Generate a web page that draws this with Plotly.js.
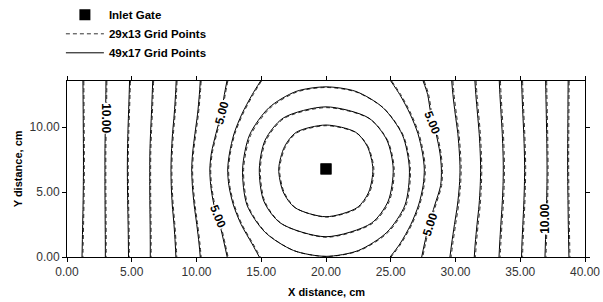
<!DOCTYPE html>
<html>
<head>
<meta charset="utf-8">
<script src="https://cdn.plot.ly/plotly-3.0.1.min.js"></script>
<style>html,body{margin:0;padding:0;background:#fff}#chart{width:603px;height:302px}</style>
</head>
<body>
<div id="chart"></div>
<script>
// ---- data ----
const gateX = [20.0];
const gateY = [6.78];

// y positions sampled along the wall-to-wall contour lines
const yOpen = [13.55, 12.5, 11, 9.5, 8, 6.78, 5.5, 4, 2.5, 1, 0];

// 49x17 grid (solid) – left side, levels 4..11
const s4L  = [14.95,14.30,13.50,12.90,12.55,12.41,12.50,12.85,13.45,14.30,14.85];
const s5L  = [12.35,12.15,11.90,11.50,11.15,11.03,11.10,11.35,11.80,12.15,12.37];
const s6L  = [10.29,10.22,10.08,9.88,9.70,9.63,9.68,9.82,10.02,10.20,10.29];
const s7L  = [8.43,8.38,8.28,8.15,8.06,8.03,8.05,8.13,8.26,8.36,8.41];
const s8L  = [6.62,6.58,6.52,6.45,6.40,6.39,6.39,6.40,6.42,6.43,6.43];
const s9L  = [4.83,4.80,4.75,4.70,4.67,4.66,4.67,4.69,4.72,4.74,4.75];
const s10L = [3.01,3.00,2.98,2.95,2.93,2.93,2.93,2.94,2.95,2.96,2.96];
const s11L = [1.23,1.24,1.25,1.26,1.27,1.27,1.26,1.24,1.21,1.18,1.16];
// right side
const s4R  = [25.00,25.70,26.50,27.10,27.45,27.59,27.50,27.15,26.55,25.70,24.95];
const s5R  = [27.50,27.85,28.10,28.50,28.80,28.91,28.85,28.40,27.95,27.60,27.39];
const s6R  = [29.71,29.80,29.98,30.18,30.30,30.35,30.30,30.15,29.92,29.70,29.57];
const s7R  = [31.50,31.57,31.70,31.83,31.91,31.94,31.91,31.82,31.66,31.52,31.45];
const s8R  = [33.38,33.43,33.52,33.61,33.67,33.69,33.67,33.60,33.50,33.41,33.36];
const s9R  = [35.10,35.14,35.20,35.27,35.32,35.34,35.32,35.27,35.20,35.13,35.10];
const s10R = [36.96,36.98,37.01,37.04,37.06,37.07,37.06,37.03,36.99,36.94,36.91];
const s11R = [38.70,38.69,38.68,38.67,38.66,38.66,38.67,38.69,38.71,38.74,38.76];

// 29x13 grid (dashed) – left side
const d4L  = [15.02,14.38,13.58,12.97,12.62,12.48,12.57,12.92,13.52,14.38,14.93];
const d5L  = [12.42,12.22,11.97,11.57,11.22,11.10,11.17,11.42,11.87,12.22,12.44];
const d6L  = [10.36,10.29,10.15,9.95,9.77,9.70,9.75,9.89,10.09,10.27,10.36];
const d7L  = [8.50,8.45,8.35,8.22,8.13,8.10,8.12,8.20,8.33,8.43,8.48];
const d8L  = [6.69,6.65,6.59,6.52,6.47,6.46,6.46,6.47,6.49,6.50,6.50];
const d9L  = [4.90,4.87,4.82,4.77,4.74,4.73,4.74,4.76,4.79,4.81,4.82];
const d10L = [3.08,3.07,3.05,3.02,3.00,3.00,3.00,3.01,3.02,3.03,3.03];
const d11L = [1.30,1.31,1.32,1.33,1.34,1.34,1.33,1.31,1.28,1.25,1.23];
// right side
const d4R  = [25.07,25.78,26.58,27.18,27.53,27.67,27.58,27.23,26.63,25.78,25.03];
const d5R  = [27.58,27.93,28.18,28.58,28.88,28.99,28.93,28.48,28.03,27.68,27.47];
const d6R  = [29.80,29.89,30.07,30.27,30.39,30.44,30.39,30.24,30.01,29.79,29.66];
const d7R  = [31.59,31.66,31.79,31.92,32.00,32.03,32.00,31.91,31.75,31.61,31.54];
const d8R  = [33.47,33.52,33.61,33.70,33.76,33.78,33.76,33.69,33.59,33.50,33.45];
const d9R  = [35.18,35.22,35.28,35.35,35.40,35.42,35.40,35.35,35.28,35.21,35.18];
const d10R = [37.04,37.06,37.09,37.12,37.14,37.15,37.14,37.11,37.07,37.02,36.99];
const d11R = [38.78,38.77,38.76,38.75,38.74,38.74,38.75,38.77,38.79,38.82,38.84];

// closed rings around the gate (levels 1..3)
const r1x = [23.62,23.20,22.30,20.00,17.70,16.80,16.35,16.70,17.60,20.00,22.40,23.30,23.62];
const r1y = [6.78,8.50,9.60,10.16,9.60,8.50,6.78,5.00,3.80,3.10,3.80,5.00,6.78];
const r2x = [25.19,24.70,23.30,20.00,16.70,15.30,14.85,15.20,16.50,20.00,23.50,24.80,25.19];
const r2y = [6.78,9.00,10.70,11.56,10.70,9.00,6.78,4.30,2.60,1.56,2.60,4.30,6.78];
const r3x = [26.44,25.90,24.40,22.30,20.00,17.70,15.60,14.10,13.56,13.90,15.30,17.50,20.00,22.50,24.70,26.10,26.44];
const r3y = [6.78,9.40,11.50,12.75,13.10,12.75,11.50,9.40,6.78,4.00,1.90,0.50,0.05,0.50,1.90,4.00,6.78];

const q1x = [23.70,23.27,22.36,20.03,17.74,16.86,16.42,16.78,17.68,20.04,22.46,23.37,23.70];
const q1y = [6.74,8.46,9.55,10.11,9.55,8.46,6.74,4.96,3.77,3.07,3.77,4.96,6.74];
const q2x = [25.27,24.77,23.36,20.03,16.74,15.37,14.93,15.28,16.57,20.04,23.57,24.88,25.27];
const q2y = [6.74,8.96,10.65,11.50,10.65,8.96,6.74,4.27,2.57,1.52,2.57,4.27,6.74];
const q3x = [26.52,25.97,24.46,22.33,20.03,17.74,15.67,14.18,13.64,13.98,15.37,17.55,20.04,22.56,24.77,26.18,26.52];
const q3y = [6.74,9.36,11.45,12.70,13.05,12.70,11.45,9.36,6.74,3.97,1.87,0.48,0.04,0.48,1.87,3.97,6.74];

// contour labels
const labelText  = ['10.00','5.00','5.00','5.00','5.00','10.00'];
const labelX     = [3.00, 11.95, 11.67, 28.20, 28.00, 36.95];
const labelY     = [10.70, 11.10, 3.10, 10.30, 2.50, 2.90];
const labelAngle = [90, -75, 68, 68, -72, -90];

const xTicks = [0,5,10,15,20,25,30,35,40];
const yTicks = [0,5,10];
const legendNames = ['Inlet Gate','29x13 Grid Points','49x17 Grid Points'];
const xTitle = 'X distance, cm';
const yTitle = 'Y distance, cm';

// ---- build traces ----
const FONT = 'Liberation Sans, Arial, sans-serif';
const solidLine = {color:'#000', width:1, shape:'spline', smoothing:0.8};
const dashLine  = {color:'#333', width:1, dash:'4px,3px', shape:'spline', smoothing:0.8};

const traces = [];
traces.push({type:'scatter', mode:'markers', x:gateX, y:gateY, name:legendNames[0],
  marker:{symbol:'square', size:11, color:'#000'}, showlegend:true, legendrank:1, cliponaxis:false});

const dashOpen  = [d4L,d5L,d6L,d7L,d8L,d9L,d10L,d11L,d4R,d5R,d6R,d7R,d8R,d9R,d10R,d11R];
const solidOpen = [s4L,s5L,s6L,s7L,s8L,s9L,s10L,s11L,s4R,s5R,s6R,s7R,s8R,s9R,s10R,s11R];
const dashRings  = [[q1x,q1y],[q2x,q2y],[q3x,q3y]];
const solidRings = [[r1x,r1y],[r2x,r2y],[r3x,r3y]];

let first = true;
dashOpen.forEach(xs => {
  traces.push({type:'scatter', mode:'lines', x:xs, y:yOpen, line:dashLine, name:legendNames[1],
    legendgroup:'d', showlegend:first, legendrank:2, hoverinfo:'skip'});
  first = false;
});
dashRings.forEach(r => traces.push({type:'scatter', mode:'lines', x:r[0], y:r[1], line:dashLine,
  legendgroup:'d', showlegend:false, hoverinfo:'skip'}));
first = true;
solidOpen.forEach(xs => {
  traces.push({type:'scatter', mode:'lines', x:xs, y:yOpen, line:solidLine, name:legendNames[2],
    legendgroup:'s', showlegend:first, legendrank:3, hoverinfo:'skip'});
  first = false;
});
solidRings.forEach(r => traces.push({type:'scatter', mode:'lines', x:r[0], y:r[1], line:solidLine,
  legendgroup:'s', showlegend:false, hoverinfo:'skip'}));
// gate on top
traces.push(Object.assign({}, traces[0], {showlegend:false}));

const annotations = labelText.map((t,i) => ({
  x:labelX[i], y:labelY[i], xref:'x', yref:'y', text:t, showarrow:false,
  textangle:labelAngle[i], bgcolor:'#fff', borderpad:0,
  font:{family:FONT, size:12, color:'#000', weight:'bold'}
}));
const titleFont = {family:FONT, size:11, color:'#000', weight:'bold'};
annotations.push({xref:'paper', yref:'paper', x:0.5, y:-0.2, yanchor:'middle', xanchor:'center',
  yshift:-0, text:xTitle, showarrow:false, font:titleFont});
annotations.push({xref:'paper', yref:'paper', x:-0.094, y:0.5, xanchor:'center', yanchor:'middle',
  text:yTitle, textangle:-90, showarrow:false, font:titleFont});

const axisCommon = {
  showgrid:false, zeroline:false, showline:true, linecolor:'#000', linewidth:1,
  mirror:'ticks', ticks:'outside', ticklen:4, tickcolor:'#000', tickwidth:1,
  tickformat:'.2f', tickfont:{family:FONT, size:12, color:'#333'}, automargin:false
};

const layout = {
  width:603, height:302,
  margin:{l:67, r:18, t:81, b:45, autoexpand:false},
  paper_bgcolor:'#fff', plot_bgcolor:'#fff',
  showlegend:true,
  legend:{xref:'container', yref:'container', x:0.101, y:0.999, xanchor:'left', yanchor:'top',
    bgcolor:'rgba(0,0,0,0)',
    font:{family:FONT, size:11.5, color:'#000', weight:'bold'}, itemwidth:38, tracegroupgap:0,
    traceorder:'normal'},
  xaxis:Object.assign({}, axisCommon, {range:[0,40], tickvals:xTicks}),
  yaxis:Object.assign({}, axisCommon, {range:[0,13.55], tickvals:yTicks}),
  annotations:annotations
};

Plotly.newPlot('chart', traces, layout, {displayModeBar:false, staticPlot:true});
</script>
</body>
</html>
